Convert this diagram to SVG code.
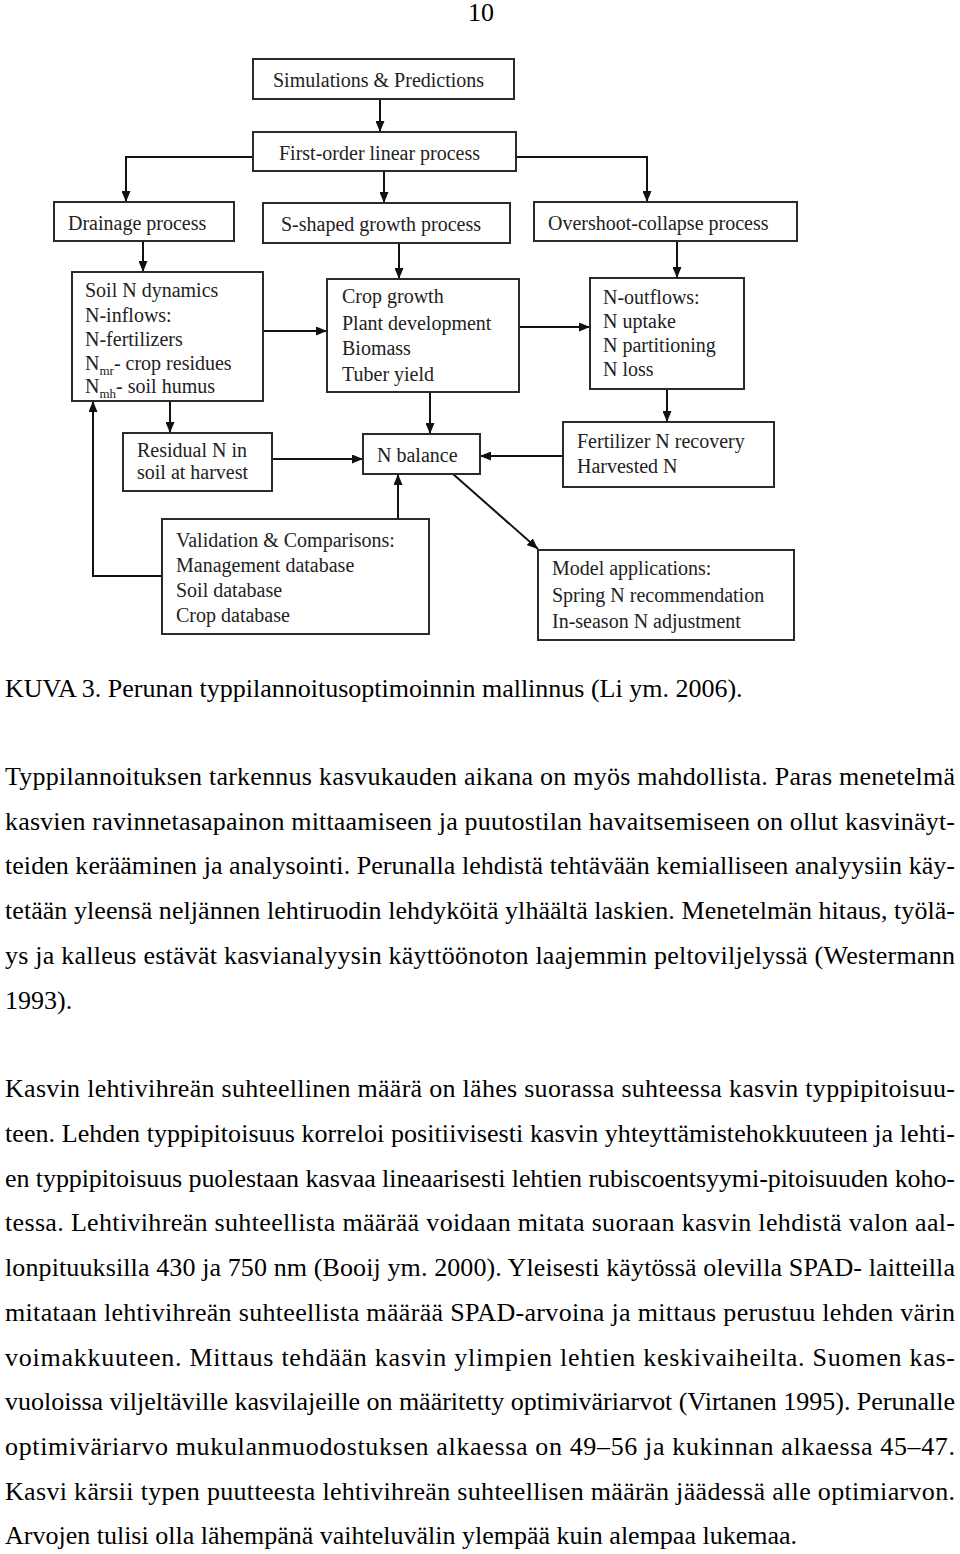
<svg xmlns="http://www.w3.org/2000/svg" width="960" height="1554" viewBox="0 0 960 1554">
<style>
.box{fill:#fff;stroke:#2b2b2b;stroke-width:2}
.t{font-family:"Liberation Serif","Times New Roman",serif;font-size:20px;fill:#222}
.sub{font-size:13px}
.c{stroke:#111;stroke-width:2;fill:none;marker-end:url(#ah)}
.p{font-family:"Liberation Serif","Times New Roman",serif;font-size:26px;fill:#000}
</style>
<defs>
<marker id="ah" markerUnits="userSpaceOnUse" markerWidth="11" markerHeight="9" refX="11" refY="4.5" orient="auto">
<path d="M0,0 L11,4.5 L0,9 z" fill="#111"/>
</marker>
</defs>
<rect width="960" height="1554" fill="#fff"/>
<text class="p" x="481" y="21" text-anchor="middle">10</text>

<g id="connectors">
<path class="c" d="M380,99 V132"/>
<path class="c" d="M253,157 H126 V202"/>
<path class="c" d="M384,171 V203"/>
<path class="c" d="M516,157 H647 V202"/>
<path class="c" d="M143,241 V272"/>
<path class="c" d="M399,243 V279"/>
<path class="c" d="M677,241 V278"/>
<path class="c" d="M263,331 H327"/>
<path class="c" d="M519,327 H590"/>
<path class="c" d="M170,401 V433"/>
<path class="c" d="M430,392 V434"/>
<path class="c" d="M667,389 V422"/>
<path class="c" d="M272,459 H363"/>
<path class="c" d="M563,456 H480"/>
<path class="c" d="M398,519 V474"/>
<path class="c" d="M162,576 H93 V401"/>
<path class="c" d="M453,474 L538,549"/>
</g>

<g id="sim"><rect class="box" x="253" y="59" width="261" height="40"/><text class="t" x="273" y="87">Simulations &amp; Predictions</text></g>
<g id="firstorder"><rect class="box" x="253" y="132" width="263" height="39"/><text class="t" x="279" y="160">First-order linear process</text></g>
<g id="drainage"><rect class="box" x="54" y="202" width="180" height="39"/><text class="t" x="68" y="230">Drainage process</text></g>
<g id="sshaped"><rect class="box" x="263" y="203" width="247" height="40"/><text class="t" x="281" y="231">S-shaped growth process</text></g>
<g id="overshoot"><rect class="box" x="534" y="202" width="263" height="39"/><text class="t" x="548" y="230">Overshoot-collapse process</text></g>
<g id="soiln"><rect class="box" x="72" y="272" width="191" height="129"/>
<text class="t" x="85" y="297">Soil N dynamics</text>
<text class="t" x="85" y="322">N-inflows:</text>
<text class="t" x="85" y="346">N-fertilizers</text>
<text class="t" x="85" y="370">N<tspan class="sub" dy="5">mr</tspan><tspan dy="-5">- crop residues</tspan></text>
<text class="t" x="85" y="393">N<tspan class="sub" dy="5">mh</tspan><tspan dy="-5">- soil humus</tspan></text>
</g>
<g id="crop"><rect class="box" x="327" y="279" width="192" height="113"/>
<text class="t" x="342" y="303">Crop growth</text>
<text class="t" x="342" y="330">Plant development</text>
<text class="t" x="342" y="355">Biomass</text>
<text class="t" x="342" y="381">Tuber yield</text>
</g>
<g id="outflows"><rect class="box" x="590" y="278" width="154" height="111"/>
<text class="t" x="603" y="304">N-outflows:</text>
<text class="t" x="603" y="328">N uptake</text>
<text class="t" x="603" y="352">N partitioning</text>
<text class="t" x="603" y="376">N loss</text>
</g>
<g id="residual"><rect class="box" x="123" y="433" width="149" height="58"/>
<text class="t" x="137" y="457">Residual N in</text>
<text class="t" x="137" y="479">soil at harvest</text>
</g>
<g id="nbalance"><rect class="box" x="363" y="434" width="117" height="40"/><text class="t" x="377" y="462">N balance</text></g>
<g id="fertilizer"><rect class="box" x="563" y="422" width="211" height="65"/>
<text class="t" x="577" y="448">Fertilizer N recovery</text>
<text class="t" x="577" y="473">Harvested N</text>
</g>
<g id="validation"><rect class="box" x="162" y="519" width="267" height="115"/>
<text class="t" x="176" y="547">Validation &amp; Comparisons:</text>
<text class="t" x="176" y="572">Management database</text>
<text class="t" x="176" y="597">Soil database</text>
<text class="t" x="176" y="622">Crop database</text>
</g>
<g id="model"><rect class="box" x="538" y="550" width="256" height="90"/>
<text class="t" x="552" y="575">Model applications:</text>
<text class="t" x="552" y="602">Spring N recommendation</text>
<text class="t" x="552" y="628">In-season N adjustment</text>
</g>

<g id="bodytext">
<text class="p" x="5" y="697">KUVA 3. Perunan typpilannoitusoptimoinnin mallinnus (Li ym. 2006).</text>
<text class="p" x="5" y="785" textLength="950" lengthAdjust="spacing">Typpilannoituksen tarkennus kasvukauden aikana on myös mahdollista. Paras menetelmä</text>
<text class="p" x="5" y="830" textLength="950" lengthAdjust="spacing">kasvien ravinnetasapainon mittaamiseen ja puutostilan havaitsemiseen on ollut kasvinäyt-</text>
<text class="p" x="5" y="874" textLength="950" lengthAdjust="spacing">teiden kerääminen ja analysointi. Perunalla lehdistä tehtävään kemialliseen analyysiin käy-</text>
<text class="p" x="5" y="919" textLength="950" lengthAdjust="spacing">tetään yleensä neljännen lehtiruodin lehdyköitä ylhäältä laskien. Menetelmän hitaus, työlä-</text>
<text class="p" x="5" y="964" textLength="950" lengthAdjust="spacing">ys ja kalleus estävät kasvianalyysin käyttöönoton laajemmin peltoviljelyssä (Westermann</text>
<text class="p" x="5" y="1009">1993).</text>
<text class="p" x="5" y="1097" textLength="950" lengthAdjust="spacing">Kasvin lehtivihreän suhteellinen määrä on lähes suorassa suhteessa kasvin typpipitoisuu-</text>
<text class="p" x="5" y="1142" textLength="950" lengthAdjust="spacing">teen. Lehden typpipitoisuus korreloi positiivisesti kasvin yhteyttämistehokkuuteen ja lehti-</text>
<text class="p" x="5" y="1187" textLength="950" lengthAdjust="spacing">en typpipitoisuus puolestaan kasvaa lineaarisesti lehtien rubiscoentsyymi-pitoisuuden koho-</text>
<text class="p" x="5" y="1231" textLength="950" lengthAdjust="spacing">tessa. Lehtivihreän suhteellista määrää voidaan mitata suoraan kasvin lehdistä valon aal-</text>
<text class="p" x="5" y="1276" textLength="950" lengthAdjust="spacing">lonpituuksilla 430 ja 750 nm (Booij ym. 2000). Yleisesti käytössä olevilla SPAD- laitteilla</text>
<text class="p" x="5" y="1321" textLength="950" lengthAdjust="spacing">mitataan lehtivihreän suhteellista määrää SPAD-arvoina ja mittaus perustuu lehden värin</text>
<text class="p" x="5" y="1366" textLength="950" lengthAdjust="spacing">voimakkuuteen. Mittaus tehdään kasvin ylimpien lehtien keskivaiheilta. Suomen kas-</text>
<text class="p" x="5" y="1410" textLength="950" lengthAdjust="spacing">vuoloissa viljeltäville kasvilajeille on määritetty optimiväriarvot (Virtanen 1995). Perunalle</text>
<text class="p" x="5" y="1455" textLength="950" lengthAdjust="spacing">optimiväriarvo mukulanmuodostuksen alkaessa on 49–56 ja kukinnan alkaessa 45–47.</text>
<text class="p" x="5" y="1500" textLength="950" lengthAdjust="spacing">Kasvi kärsii typen puutteesta lehtivihreän suhteellisen määrän jäädessä alle optimiarvon.</text>
<text class="p" x="5" y="1544">Arvojen tulisi olla lähempänä vaihteluvälin ylempää kuin alempaa lukemaa.</text>
</g>
</svg>
